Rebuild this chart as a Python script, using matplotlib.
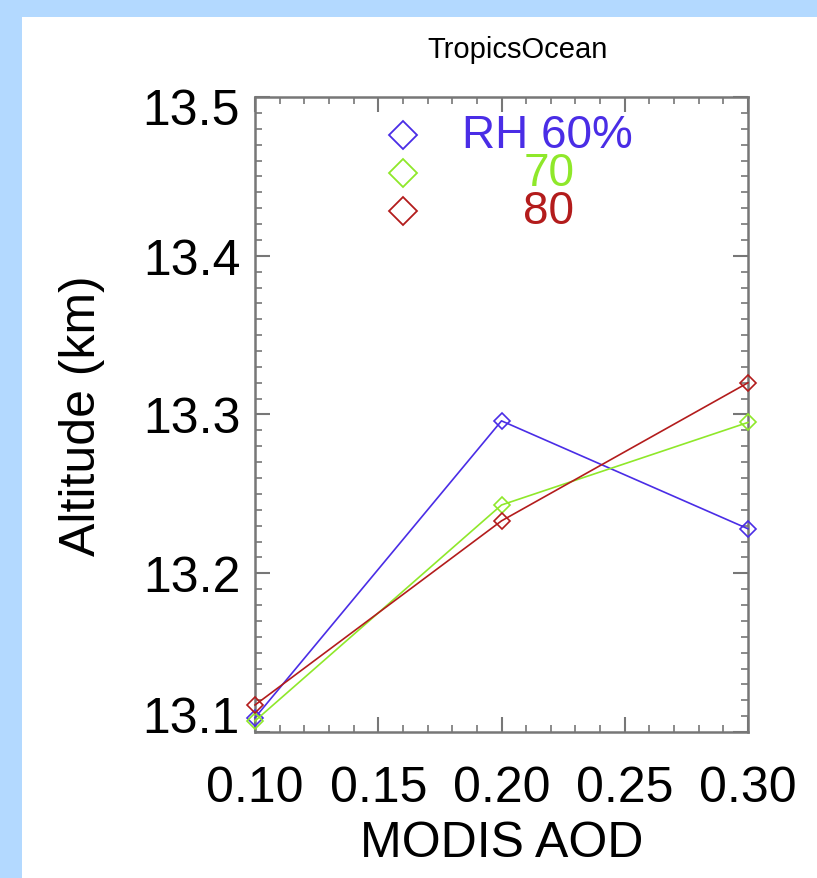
import matplotlib
matplotlib.use('Agg')
import matplotlib.pyplot as plt
from matplotlib.patches import Rectangle
from matplotlib.ticker import MultipleLocator, FormatStrFormatter, FuncFormatter
from matplotlib.transforms import ScaledTranslation, blended_transform_factory

plt.rcParams['font.family'] = ['Liberation Sans', 'DejaVu Sans']

# --- data ---
aod = [0.10, 0.20, 0.30]
alt_rh60 = [13.109, 13.296, 13.228]
alt_rh70 = [13.107, 13.243, 13.295]
alt_rh80 = [13.117, 13.233, 13.320]
labels = ['RH 60%', '70', '80']
colors = ['#4a2de6', '#8fe82a', '#b31c1c']

ymin, ymax = 13.1, 13.5

fig = plt.figure(figsize=(8.17, 8.79), dpi=100)
fig.patch.set_facecolor('#b3d9ff')
# white panel inside the light-blue frame
fig.patches.append(Rectangle((22 / 817, 0), 1, 1 - 18 / 879, transform=fig.transFigure,
                             facecolor='white', edgecolor='none', zorder=-10))

ax = fig.add_axes([255 / 817, 1 - 733 / 879, 493 / 817, 635 / 879])
ax.set_facecolor('white')

series = [alt_rh60, alt_rh70, alt_rh80]
for ys, c in zip(series, colors):
    ax.plot(aod, ys, color=c, lw=1.2, marker='D', ms=8, mfc='none', mec=c, mew=1.2,
            clip_on=False, zorder=3)

ax.set_xlim(0.10, 0.30)
ax.set_ylim(ymin, ymax)
ax.xaxis.set_major_locator(MultipleLocator(0.05))
ax.xaxis.set_minor_locator(MultipleLocator(0.01))
ax.yaxis.set_major_locator(MultipleLocator(0.1))
ax.yaxis.set_minor_locator(MultipleLocator(0.01))
ax.xaxis.set_major_formatter(FormatStrFormatter('%.2f'))
# end labels drawn separately (IDL nudges them inside the range)
ax.yaxis.set_major_formatter(FuncFormatter(
    lambda v, p: '' if abs(v - ymin) < 1e-6 or abs(v - ymax) < 1e-6 else '%.1f' % v))

ax.tick_params(which='both', direction='in', top=True, right=True, colors='#777777',
               labelcolor='black', labelsize=36)
ax.tick_params(which='major', length=11, width=1.5)
ax.tick_params(which='minor', length=5, width=1.2)
ax.tick_params(axis='x', pad=24)
ax.tick_params(axis='y', pad=10)
for s in ax.spines.values():
    s.set_color('#777777')
    s.set_linewidth(1.8)

trans = blended_transform_factory(ax.transAxes, ax.transData)
for v, dy in [(ymin, 13), (ymax, -14)]:
    ax.text(0, v, '%.1f' % v, fontsize=36, ha='right', va='center',
            transform=trans + ScaledTranslation(-15 / 100, dy / 100, fig.dpi_scale_trans))

ax.set_xlabel('MODIS AOD', fontsize=36, labelpad=6)
ax.set_ylabel('Altitude (km)', fontsize=36, labelpad=28)
fig.text(518 / 817, 1 - 50 / 879, 'TropicsOcean', fontsize=21, ha='center', va='center')

# legend: diamonds + coloured text
leg_y = [0.940, 0.880, 0.820]
text_x = [0.420, 0.544, 0.544]
for lab, c, yy, tx in zip(labels, colors, leg_y, text_x):
    ax.plot([0.300], [yy], transform=ax.transAxes, marker='D', ms=14, mfc='none',
            mec=c, mew=1.3, clip_on=False)
    ax.text(tx, yy, lab, transform=ax.transAxes, color=c, fontsize=33,
            ha='left', va='center')

fig.savefig('out.png', dpi=100, facecolor=fig.get_facecolor())
